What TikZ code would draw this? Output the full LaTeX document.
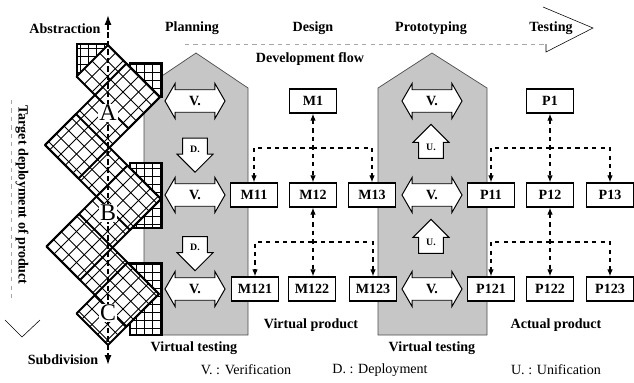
\documentclass[tikz,border=0pt]{standalone}
\usepackage{fontspec}
\setmainfont{Liberation Serif}
\usetikzlibrary{positioning,calc,arrows.meta,shapes.arrows}

% point of the tilted mesh, given as u = x+y and v = x-y
\newcommand\uvpt[2]{({((#1)+(#2))/2},{((#1)-(#2))/2})}

\begin{document}
\begin{tikzpicture}[x=0.025cm, y=-0.025cm,
  lbl/.style={font=\bfseries},
  pbox/.style={draw, line width=0.9pt, fill=white, font=\bfseries, minimum width=1.18cm, minimum height=0.6cm, inner sep=1pt},
  vtest/.style={fill=gray!45, draw=black!70, line width=0.5pt},
  varrow/.style={double arrow, draw, fill=white, line width=0.7pt, font=\bfseries, inner xsep=1pt, inner ysep=4.3pt, minimum height=1.5cm, double arrow head extend=0.16cm, double arrow tip angle=120},
  darrow/.style={single arrow, draw, fill=white, line width=0.7pt, font=\bfseries\scriptsize, inner sep=5pt, minimum height=0.85cm, minimum width=0.9cm, single arrow head extend=0.14cm, shape border rotate=270},
  uarrow/.style={darrow, shape border rotate=90},
  link/.style={dashed, line width=0.9pt, -{Latex[length=5pt,width=4pt]}},
  meshline/.style={line width=0.6pt},
  gridsq/.style={fill=white, line width=0.9pt},
]
\useasboundingbox (0,0) rectangle (634,383);

% virtual testing areas
\draw[vtest] (144,335) -- (144,88) -- (196,53) -- (248,88) -- (248,335) -- cycle;
\draw[vtest] (378,335) -- (378,88) -- (432,53) -- (487,88) -- (487,335) -- cycle;

% development flow
\draw[gray!70, dashed, thin] (185,44) -- (546,44);
\draw[thin] (546,44) -- (546,52) -- (593,28) -- (543,7);
\node[lbl] (abst) at (65,29) {Abstraction};
\node[lbl] (plan) at (192,28) {Planning};
\node[lbl] (design) at (313,28) {Design};
\node[lbl] (proto) at (431,28) {Prototyping};
\node[lbl] (test) at (551,28) {Testing};
\node[lbl] (flow) at (310,59) {Development flow};

% target deployment
\draw[gray!70, dashed, thin] (11,100) -- (11,300);
\draw[thin] (5,320) -- (22,337) -- (40,320);
\node[lbl, rotate=-90] (target) at (22,195) {Target deployment of product};

% square grids behind the mesh
\foreach \xa/\ya/\xb/\yb in {77/44/108/77, 130/63/162/97, 130/163/162/228, 130/263/162/335} {
  \draw[gridsq] (\xa,\ya) rectangle (\xb,\yb);
  \draw[step=0.2cm, line width=0.4pt] (\xa,\ya) grid (\xb,\yb);
  \draw[line width=0.9pt] (\xa,\ya) rectangle (\xb,\yb);
}

% tilted mesh
\def\meshrects{153/257/0/63, 190/257/-100/63, 190/360/-100/-38, 293/360/-200/-38, 293/453/-200/-135, 390/453/-237/-135}
\fill[white] \foreach \ua/\ub/\va/\vb in \meshrects {\uvpt{\ua}{\va} -- \uvpt{\ub}{\va} -- \uvpt{\ub}{\vb} -- \uvpt{\ua}{\vb} -- cycle};
\begin{scope}
  \clip \foreach \ua/\ub/\va/\vb in \meshrects {\uvpt{\ua}{\va} -- \uvpt{\ub}{\va} -- \uvpt{\ub}{\vb} -- \uvpt{\ua}{\vb} -- cycle};
  \foreach \k in {0,...,20}
    \draw[meshline] \uvpt{153+15.5*\k}{-240} -- \uvpt{153+15.5*\k}{65};
  \foreach \k in {-16,...,4}
    \draw[meshline] \uvpt{150}{15.5*\k} -- \uvpt{456}{15.5*\k};
\end{scope}
\foreach \ua/\ub/\va/\vb in \meshrects
  \draw[line width=1.3pt, line join=round] \uvpt{\ua}{\va} -- \uvpt{\ub}{\va} -- \uvpt{\ub}{\vb} -- \uvpt{\ua}{\vb} -- cycle;

% axis
\draw[dashed, dash pattern=on 4pt off 2pt, line width=1.2pt, {Latex[length=7pt,width=5pt]}-{Latex[length=7pt,width=5pt]}] (108,15) -- (108,365);
\node[lbl] (subd) at (63,360) {Subdivision};
\foreach \lv/\ly in {A/113, B/213, C/313}
  \node[font=\fontsize{17}{17}\selectfont, fill=white, inner sep=1pt] (lv\lv) at (108,\ly) {\lv};

% arrows in the virtual testing areas
\node[varrow] (vl1) at (195,101) {V.};
\node[varrow] (vl2) at (195,195) {V.};
\node[varrow] (vl3) at (195,289) {V.};
\node[darrow] (dl1) at (195,149) {D.};
\node[darrow] (dl2) at (195,247.5) {D.};
\node[varrow] (vr1) at (432,101) {V.};
\node[varrow] (vr2) at (432,195) {V.};
\node[varrow] (vr3) at (432,289) {V.};
\node[uarrow] (ur1) at (431,147.5) {U.};
\node[uarrow] (ur2) at (431,242.5) {U.};

% virtual product
\node[pbox] (M1) at (313,101) {M1};
\node[pbox] (M11) at (254,195) {M11};
\node[pbox] (M12) at (313,195) {M12};
\node[pbox] (M13) at (372,195) {M13};
\node[pbox] (M121) at (255,289) {M121};
\node[pbox] (M122) at (312,289) {M122};
\node[pbox] (M123) at (373,289) {M123};
% actual product
\node[pbox] (P1) at (550,101) {P1};
\node[pbox] (P11) at (491,195) {P11};
\node[pbox] (P12) at (550,195) {P12};
\node[pbox] (P13) at (610,195) {P13};
\node[pbox] (P121) at (491,289) {P121};
\node[pbox] (P122) at (550,289) {P122};
\node[pbox] (P123) at (610,289) {P123};

\draw[link, {Latex[length=5pt,width=4pt]}-{Latex[length=5pt,width=4pt]}] (M1) -- (M12);
\draw[link] ($(M1.south)!0.5!(M12.north)$) -| (M11.north);
\draw[link] ($(M1.south)!0.5!(M12.north)$) -| (M13.north);
\draw[link, {Latex[length=5pt,width=4pt]}-{Latex[length=5pt,width=4pt]}] (M12) -- (M12 |- M122.north);
\draw[link] ($(M12.south)!0.5!(M122.north)$) -| (M121.north);
\draw[link] ($(M12.south)!0.5!(M122.north)$) -| (M123.north);
\draw[link, {Latex[length=5pt,width=4pt]}-{Latex[length=5pt,width=4pt]}] (P1) -- (P12);
\draw[link] ($(P1.south)!0.5!(P12.north)$) -| (P11.north);
\draw[link] ($(P1.south)!0.5!(P12.north)$) -| (P13.north);
\draw[link, {Latex[length=5pt,width=4pt]}-{Latex[length=5pt,width=4pt]}] (P12) -- (P122);
\draw[link] ($(P12.south)!0.5!(P122.north)$) -| (P121.north);
\draw[link] ($(P12.south)!0.5!(P122.north)$) -| (P123.north);

\node[lbl] (vprod) at (311,325) {Virtual product};
\node[lbl] (aprod) at (556,325) {Actual product};
\node[lbl] (vtl) at (194,348) {Virtual testing};
\node[lbl] (vtr) at (432,348) {Virtual testing};

% legend
\node (legv) at (246,370) {V. : Verification};
\node (legd) at (380,370) {D. : Deployment};
\node (legu) at (556,370) {U. : Unification};
\end{tikzpicture}
\end{document}
